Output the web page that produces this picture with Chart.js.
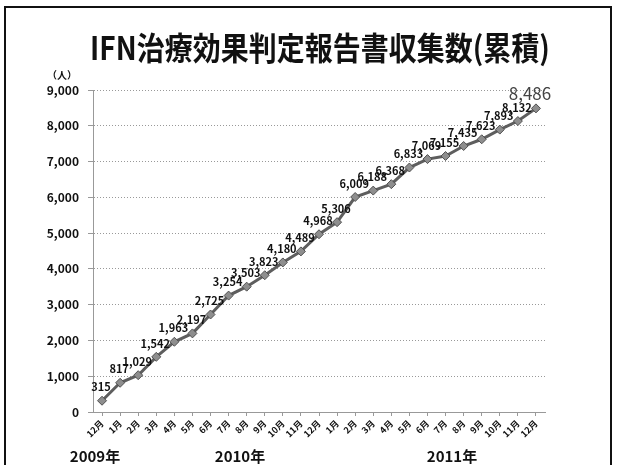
<!DOCTYPE html>
<html lang="ja">
<head>
<meta charset="utf-8">
<title>IFN治療効果判定報告書収集数(累積)</title>
<script src="https://cdn.jsdelivr.net/npm/chart.js@4"></script>
<style>
  html, body { margin: 0; padding: 0; background: #fff; }
  #wrap { position: relative; width: 617px; height: 465px; overflow: hidden; }
  #frame {
    position: absolute; left: 4px; top: 6px; width: 608px; height: 480px;
    border: 2px solid #111; box-sizing: border-box; pointer-events: none;
  }
  #chart { position: absolute; left: 0; top: 0; }
</style>
</head>
<body>
<div id="wrap">
  <canvas id="chart" width="617" height="465"></canvas>
  <div id="frame"></div>
</div>
<script>
// Monthly labels, Dec 2009 through Dec 2011
const months = ['12月',
  '1月', '2月', '3月', '4月', '5月', '6月', '7月', '8月', '9月', '10月', '11月', '12月',
  '1月', '2月', '3月', '4月', '5月', '6月', '7月', '8月', '9月', '10月', '11月', '12月'];

// Cumulative number of reports collected (persons)
const cumulative = [315,
  817, 1029, 1542, 1963, 2197, 2725, 3254, 3503, 3823, 4180, 4489, 4968,
  5306, 6009, 6188, 6368, 6833, 7069, 7155, 7435, 7623, 7893, 8132, 8486];

const yTicks = [0, 1000, 2000, 3000, 4000, 5000, 6000, 7000, 8000, 9000];

const years = ['2009年', '2010年', '2011年'];

const chartTitle = 'IFN治療効果判定報告書収集数(累積)';

const JP_FONT = '"Noto Sans CJK JP", "Noto Sans", sans-serif';
const fmt = v => v.toLocaleString('en-US');

// heading drawn slightly tall, like the slide's condensed gothic face
const heading = {
  id: 'heading',
  afterDraw(chart) {
    const ctx = chart.ctx;
    ctx.save();
    ctx.fillStyle = '#111';
    ctx.font = 'bold 28px ' + JP_FONT;
    ctx.textAlign = 'center';
    ctx.textBaseline = 'middle';
    ctx.translate(320, 48);
    ctx.scale(1, 1.15);
    ctx.fillText(chartTitle, 0, 0);
    ctx.restore();
  }
};

// value labels above each point; the latest one is drawn larger
const valueLabels = {
  id: 'valueLabels',
  afterDatasetsDraw(chart) {
    const ctx = chart.ctx;
    const meta = chart.getDatasetMeta(0);
    ctx.save();
    ctx.textAlign = 'center';
    ctx.textBaseline = 'bottom';
    meta.data.forEach((pt, i) => {
      const last = i === meta.data.length - 1;
      if (last) {
        ctx.font = '17px ' + JP_FONT;
        ctx.fillStyle = '#444';
        ctx.fillText(fmt(cumulative[i]), pt.x - 6, pt.y - 6);
      } else {
        ctx.font = 'bold 11px ' + JP_FONT;
        ctx.fillStyle = '#111';
        ctx.fillText(fmt(cumulative[i]), pt.x - 1, pt.y - 8);
      }
    });
    ctx.restore();
  }
};

// unit caption and year captions under the month axis
const captions = {
  id: 'captions',
  afterDraw(chart) {
    const ctx = chart.ctx;
    ctx.save();
    ctx.fillStyle = '#111';
    ctx.textAlign = 'center';
    ctx.textBaseline = 'middle';
    ctx.font = 'bold 10px ' + JP_FONT;
    ctx.fillText('（人）', 62, 75);
    ctx.font = 'bold 15px ' + JP_FONT;
    const yearX = [95, 240, 452];
    years.forEach((y, i) => ctx.fillText(y, yearX[i], 456));
    ctx.restore();
  }
};

new Chart(document.getElementById('chart'), {
  type: 'line',
  data: {
    labels: months,
    datasets: [{
      data: cumulative,
      borderColor: '#5e5e5e',
      borderWidth: 3,
      tension: 0,
      pointStyle: 'rectRot',
      pointRadius: 4.5,
      pointBackgroundColor: '#8e8e8e',
      pointBorderColor: '#505050',
      pointBorderWidth: 1
    }]
  },
  options: {
    responsive: false,
    animation: false,
    layout: { padding: { left: 0, right: 72, top: 90, bottom: 0 } },
    plugins: {
      legend: { display: false },
      tooltip: { enabled: false },
      title: { display: false }
    },
    scales: {
      x: {
        offset: true,
        grid: { display: true, drawOnChartArea: false, drawTicks: true, tickLength: 4, color: '#999' },
        border: { display: true, color: '#999', dash: [1, 2] },
        ticks: {
          color: '#111',
          font: { family: JP_FONT, size: 9, weight: 'bold' },
          minRotation: 45,
          maxRotation: 45,
          autoSkip: false,
          padding: 2
        },
        afterFit(scale) { scale.height = 53; }
      },
      y: {
        min: 0,
        max: 9000,
        afterBuildTicks(scale) { scale.ticks = yTicks.map(v => ({ value: v })); },
        grid: { color: '#999', tickLength: 5, lineWidth: 1 },
        border: { display: true, color: '#999', dash: [1, 2] },
        ticks: {
          color: '#111',
          padding: 9,
          font: { family: JP_FONT, size: 12, weight: 'bold' },
          callback: v => fmt(v)
        },
        afterFit(scale) { scale.width = 93; }
      }
    }
  },
  plugins: [heading, valueLabels, captions]
});
</script>
</body>
</html>
